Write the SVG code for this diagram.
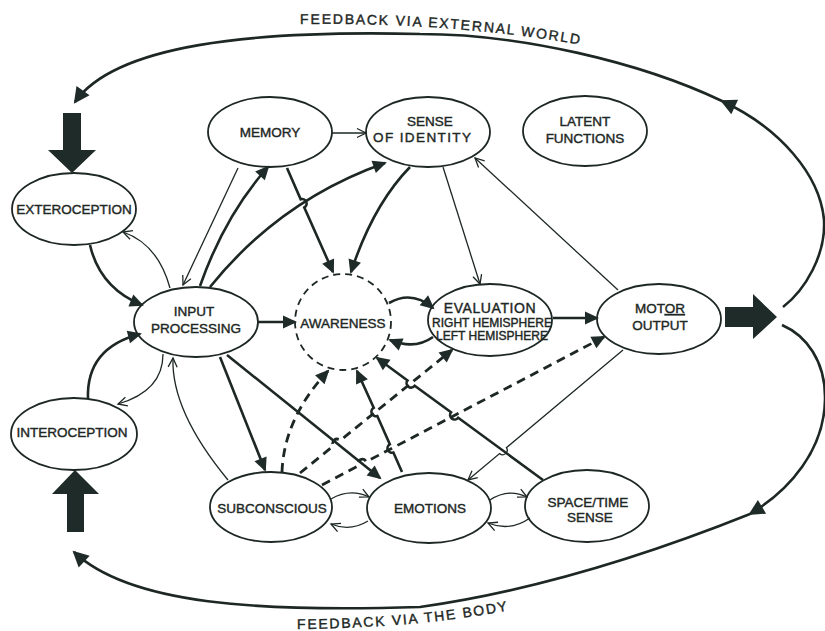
<svg xmlns="http://www.w3.org/2000/svg" width="825" height="631" viewBox="0 0 825 631">
<style>
.nd{fill:#fff;stroke:#1d2724;stroke-width:1.8}
.aw{fill:#fff;stroke:#1d2724;stroke-width:1.8;stroke-dasharray:7 5}
text{font-family:"Liberation Sans",Arial,sans-serif;font-size:13.5px;fill:#1d2724;stroke:#1d2724;stroke-width:0.4px;text-anchor:middle}
.ev{font-size:12px}
.lab{font-size:14px;text-anchor:start;letter-spacing:1.75px}
.tk{fill:none;stroke:#1d2724;stroke-width:2.6;marker-end:url(#fa)}
.tn{fill:none;stroke:#1d2724;stroke-width:1.3;marker-end:url(#oa)}
.ds{fill:none;stroke:#1d2724;stroke-width:2.8;stroke-dasharray:9 6;marker-end:url(#fa)}
.fb{fill:none;stroke:#1d2724;stroke-width:2.6}
.blk{fill:#1f2b28}
</style>
<defs>
<marker id="fa" markerUnits="userSpaceOnUse" markerWidth="16" markerHeight="14" refX="12" refY="6.5" orient="auto" overflow="visible">
<path d="M0,0 L14,6.5 L0,13 z" fill="#1f2b28"/>
</marker>
<marker id="oa" markerUnits="userSpaceOnUse" markerWidth="12" markerHeight="12" refX="9" refY="4.5" orient="auto" overflow="visible">
<path d="M0,0 L9,4.5 L0,9" fill="none" stroke="#1d2724" stroke-width="1.3"/>
</marker>
<marker id="fbm" markerUnits="userSpaceOnUse" markerWidth="18" markerHeight="18" refX="14" refY="8" orient="auto" overflow="visible">
<path d="M0,0 L16,8 L0,16 z" fill="#1f2b28"/>
</marker>
</defs>
<rect width="825" height="631" fill="#fff"/>

<g id="nodes">
<g id="memory"><ellipse class="nd" cx="270" cy="132" rx="62" ry="35"/><text x="270" y="137">MEMORY</text></g>
<g id="sense-of-identity"><ellipse class="nd" cx="428" cy="132" rx="62" ry="35"/><text x="430" y="126">SENSE</text><text x="422" y="142" textLength="98" lengthAdjust="spacing">OF IDENTITY</text></g>
<g id="latent-functions"><ellipse class="nd" cx="585" cy="131" rx="62" ry="35"/><text x="585" y="126">LATENT</text><text x="585" y="143">FUNCTIONS</text></g>
<g id="exteroception"><ellipse class="nd" cx="74" cy="209" rx="62" ry="36"/><text x="74" y="214">EXTEROCEPTION</text></g>
<g id="input-processing"><ellipse class="nd" cx="196" cy="322" rx="62" ry="35"/><text x="194" y="316">INPUT</text><text x="196" y="333">PROCESSING</text></g>
<g id="awareness"><circle class="aw" cx="343" cy="322" r="48"/><text x="343" y="328">AWARENESS</text></g>
<g id="evaluation"><ellipse class="nd" cx="490" cy="320" rx="62" ry="36"/><text x="490" y="313" style="font-size:14px;letter-spacing:0.6px">EVALUATION</text><text class="ev" x="492" y="327">RIGHT HEMISPHERE</text><text class="ev" x="492" y="340">LEFT HEMISPHERE</text></g>
<g id="motor-output"><ellipse class="nd" cx="659" cy="319" rx="62" ry="35"/><text x="660" y="313">MOT<tspan style="text-decoration:underline">OR</tspan></text><text x="660" y="330">OUTPUT</text></g>
<g id="interoception"><ellipse class="nd" cx="74" cy="434" rx="63" ry="36"/><text x="72" y="437">INTEROCEPTION</text></g>
<g id="subconscious"><ellipse class="nd" cx="271" cy="507" rx="61" ry="35"/><text x="272" y="513">SUBCONSCIOUS</text></g>
<g id="emotions"><ellipse class="nd" cx="429" cy="508" rx="62" ry="35"/><text x="430" y="513">EMOTIONS</text></g>
<g id="space-time-sense"><ellipse class="nd" cx="587" cy="506" rx="62" ry="36"/><text x="588" y="507">SPACE/TIME</text><text x="590" y="522">SENSE</text></g>
</g>

<g id="connectors">
<!-- block arrows -->
<polygon class="blk" points="63,113 81,113 81,150 96,150 72,173 48,150 63,150"/>
<polygon class="blk" points="67,532 84,532 84,494 99,494 75,470 52,494 67,494"/>
<polygon class="blk" points="725,307 753,307 753,294 777,317 753,339 753,327 725,327"/>
<!-- feedback via external world -->
<path class="fb" marker-end="url(#fbm)" d="M783,307 C805,290 826,255 824,220 C820,175 780,128 722,101"/>
<path class="fb" marker-end="url(#fbm)" d="M722,101 C640,62 520,34 420,34 C250,30 115,45 75,102"/>
<!-- feedback via the body -->
<path class="fb" marker-end="url(#fbm)" d="M782,325 C805,335 826,360 825,400 C824,450 790,490 750,514"/>
<path class="fb" marker-end="url(#fbm)" d="M750,514 C660,550 540,590 420,607 C260,612 130,605 74,552"/>
<text class="lab"><textPath href="#tp1">FEEDBACK VIA EXTERNAL WORLD</textPath></text>
<text class="lab"><textPath href="#tp2">FEEDBACK VIA THE BODY</textPath></text>
<path id="tp1" d="M300,24 Q460,22 600,48" fill="none"/>
<path id="tp2" d="M297,629 Q430,628 530,606" fill="none"/>

<!-- upper area -->
<path class="tn" d="M332,133 L366,133"/>
<path class="tn" d="M238,168 L183,285"/>
<path class="tk" d="M200,286 Q225,215 268,167"/>
<path class="tk" d="M210,287 Q280,200 385,163"/>
<path class="tk" d="M287,168 L300.7,199.3 A4.5,4.5 0 0 1 304.3,207.5 L333,272"/>
<path class="tk" d="M410,167 Q373,205 351,272"/>
<path class="tn" d="M443,167 L480,284"/>
<path class="tn" d="M618,290 L475,158"/>
<!-- left side -->
<path class="tk" d="M90,245 Q100,288 142,305"/>
<path class="tn" d="M170,288 Q158,244 123,232"/>
<path class="tk" d="M88,399 Q86,348 140,334"/>
<path class="tn" d="M163,354 Q163,391 118,404"/>
<!-- centre row -->
<path class="tk" d="M258,322 L295,322"/>
<path class="tk" d="M389,303 Q412,290 433,308"/>
<path class="tk" d="M433,337 Q415,350 390,340"/>
<path class="tk" d="M553,318 L597,318"/>
<!-- lower area -->
<path class="tk" d="M220,357 L265,470"/>
<path class="tk" d="M227,355 L380,478"/>
<path class="tn" d="M228,480 Q171,411 173,358"/>
<path class="ds" d="M282,472 Q284,418 328,371"/>
<path class="ds" d="M300,473 L333.3,446 A4.5,4.5 0 0 1 340.3,440.4 L452,350"/>
<path class="ds" d="M322,485 L358.3,465.9 A4.5,4.5 0 0 1 366.3,461.7 L604,337"/>
<path class="tk" d="M402,472 L393.4,452.5 A4.5,4.5 0 0 1 389.8,444.3 L377.3,416 A4.5,4.5 0 0 1 373.7,407.8 L357,371"/>
<path class="tk" d="M543,480 L458.2,417.7 A4.5,4.5 0 0 1 451,412.3 L414.7,385.8 A4.5,4.5 0 0 1 407.5,380.4 L377,358"/>
<path class="tn" d="M623,350 L506.4,447.7 A4.5,4.5 0 0 1 499.6,453.5 L468,480"/>
<path class="tn" d="M331,499 Q350,488 369,497"/>
<path class="tn" d="M368,521 Q350,532 331,524"/>
<path class="tn" d="M490,500 Q508,488 527,497"/>
<path class="tn" d="M530,518 Q510,532 488,523"/>
</g>
</svg>
